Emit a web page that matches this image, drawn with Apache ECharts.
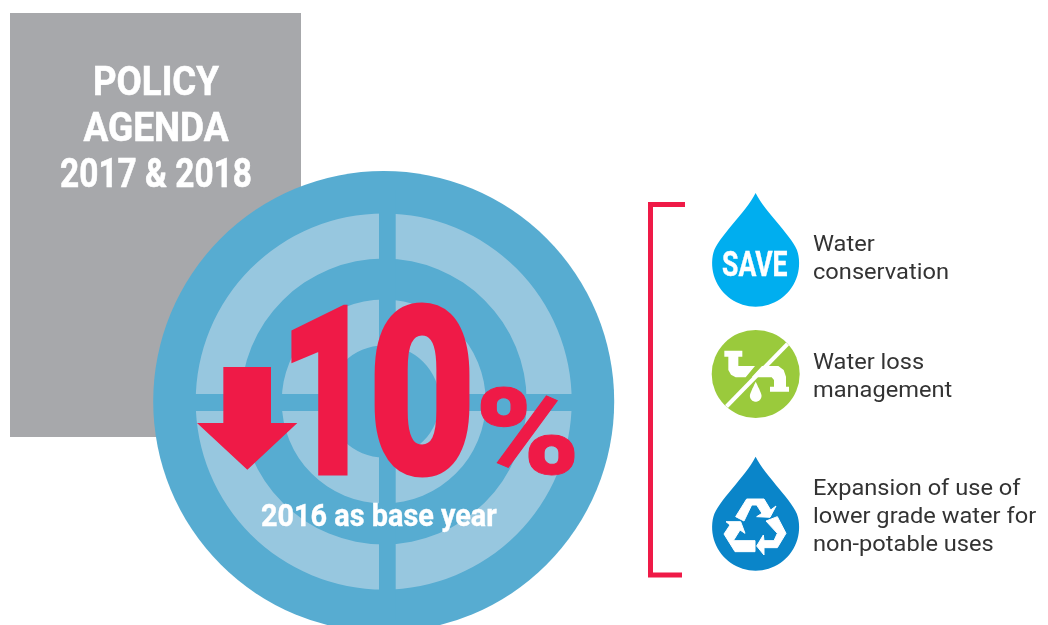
<!DOCTYPE html>
<html><head><meta charset="utf-8">
<style>html,body{margin:0;padding:0;background:#fff}#c{width:1048px;height:625px}</style>
<script src="https://cdn.jsdelivr.net/npm/echarts@6/dist/echarts.min.js"></script>
</head><body><div id="c"></div>
<script>
const titleLines = ['POLICY', 'AGENDA', '2017 & 2018'];
const headline = '10';
const headlineUnit = '%';
const baseYearLabel = '2016 as base year';
const saveLabel = 'SAVE';
const quadrants = [25, 25, 25, 25];
const item1Lines = ['Water', 'conservation'];
const item2Lines = ['Water loss', 'management'];
const item3Lines = ['Expansion of use of', 'lower grade water for', 'non-potable uses'];

const DISC = '#57acd1', LIGHT = '#97c7df', RED = '#ef1a47', GREY = '#a7a8ab';
const FONT = 'Roboto';
const cx = 383.7, cy = 401.5;
const titleScale = [0.915, 0.925, 0.835];

function text(t, x, y, size, weight, fill, align, sx, z, strokeW) {
  const style = { text: t, x: 0, y: 0, fill, textAlign: align || 'left',
      font: weight + ' ' + size + 'px "' + FONT + '"' };
  if (strokeW) { style.stroke = fill; style.lineWidth = strokeW; }
  return { type: 'text', x, y: y - size * 0.75, scaleX: sx || 1, z: z || 20, silent: true, style };
}
function poly(pts, ox, oy, fill, z, strokeW) {
  const style = { fill };
  if (strokeW) { style.stroke = fill; style.lineWidth = strokeW; style.lineJoin = 'round'; }
  return { type: 'polygon', z: z || 20, silent: true,
    shape: { points: pts.map(p => [ox + p[0] / 3, oy + p[1] / 3]) }, style };
}
function rect(x, y, w, h, fill, z) {
  return { type: 'rect', z: z === undefined ? 10 : z, silent: true, shape: { x, y, width: w, height: h }, style: { fill } };
}
function drop(x, tip, r, bottom, fill, z) {
  const c = bottom - r, lx = r * 0.97, ly = r * 0.243, pts = [];
  const jy = c - ly - tip, p1x = r * 0.23, p1y = r * 0.46, k = r * 0.345;
  const p2x = lx - 0.243 * k, p2y = jy - 0.97 * k;
  const bez = t => { const u = 1 - t;
    return [3 * u * u * t * p1x + 3 * u * t * t * p2x + t * t * t * lx,
            tip + 3 * u * u * t * p1y + 3 * u * t * t * p2y + t * t * t * jy]; };
  const a0 = Math.atan2(-ly, -lx);
  const sweep = Math.PI + 2 * Math.atan2(ly, lx);
  for (let i = 0; i <= 16; i++) { const p = bez(i / 16); pts.push([x - p[0], p[1]]); }
  for (let i = 1; i < 48; i++) { const a = a0 - sweep * i / 48;
    pts.push([x + r * Math.cos(a), c + r * Math.sin(a)]); }
  for (let i = 16; i > 0; i--) { const p = bez(i / 16); pts.push([x + p[0], p[1]]); }
  return { type: 'polygon', z: z || 20, silent: true, shape: { points: pts }, style: { fill } };
}
function ring(inner, outer) {
  return { type: 'pie', silent: true, center: [cx, cy], radius: [inner, outer], startAngle: 90, z: 5,
    label: { show: false }, labelLine: { show: false }, animation: false,
    itemStyle: { color: LIGHT, borderWidth: 0 }, data: quadrants };
}
const elements = [
  rect(10, 13, 291, 424, GREY, 0),
  rect(379, 190, 16.7, 430, DISC),
  rect(180, 394, 410, 17, DISC),
  // arrow
  poly([[220,591],[363,591],[363,759],[442,759],[292,899],[141,759],[220,759]], 150, 170, RED),
  // bracket
  { type: 'polyline', z: 20, silent: true, shape: { points: [[685, 204.5], [650.5, 204.5], [650.5, 575], [682, 575]] },
    style: { stroke: RED, lineWidth: 5, fill: 'none' } },
  // save drop
  drop(755.6, 193, 43.5, 306.7, '#00aeef'),
  // green circle
  { type: 'circle', z: 20, silent: true, shape: { cx: 755.7, cy: 374, r: 44 }, style: { fill: '#9aca3c' } },
  { type: 'line', z: 21, silent: true, shape: { x1: 787.5, y1: 344, x2: 726.5, y2: 406.5 }, style: { stroke: '#fff', lineWidth: 4 } },
  poly([[28,32],[82,32],[82,50],[70,50],[70,78],[120,78],[92,112],[62,112],[48,104],[40,90],[40,50],[28,50]], 715, 340, '#fff', 21),
  poly([[141,78],[190,78],[206,90],[213,110],[213,140],[222,140],[222,155],[165,155],[165,140],[177,140],[177,120],[170,112],[110,112]], 715, 340, '#fff', 21),
  drop(755.7, 381.7, 5.8, 401.7, '#fff', 21),
  // recycle drop
  drop(755.6, 456.7, 43.5, 570.7, '#0a85c9'),
  poly([[107,200],[140,147],[192,147],[212,180],[228,168],[210,202],[170,200],[186,190],[170,165],[155,165],[132,213]], 700, 450, '#fff', 21, 1),
  poly([[198,213],[232,200],[258,250],[232,293],[192,293],[192,315],[170,288],[190,255],[192,272],[222,272],[232,250]], 700, 450, '#fff', 21, 1),
  poly([[78,215],[122,215],[135,250],[120,240],[100,272],[165,272],[165,305],[105,305],[72,252],[90,225]], 700, 450, '#fff', 21, 1),
  // title
  ...titleLines.map((t, i) => text(t, 156, 95 + i * 46, 40, 700, '#fff', 'center', titleScale[i], 20, 0.6)),
  // headline
  text(headline[0], 279, 474, 236, 900, RED, 'left', 0.70, 30, 3),
  text(headline[1], 368, 474, 236, 900, RED, 'left', 0.79, 30, 3),
  text(headlineUnit, 475, 474, 121, 900, RED, 'left', 1.17, 30, 1),
  text(baseYearLabel, 261, 526, 31, 700, '#fff', 'left', 0.93, 31, 0.4),
  text(saveLabel, 722, 276, 35, 700, '#fff', 'left', 0.76, 25, 0.4),
  ...item1Lines.map((t, i) => text(t, 813, 251 + i * 28, 22.5, 400, '#333', 'left', 1.05)),
  ...item2Lines.map((t, i) => text(t, 813, 369 + i * 28, 22.5, 400, '#333', 'left', 1.05)),
  ...item3Lines.map((t, i) => text(t, 813, 495 + i * 28, 22.5, 400, '#333', 'left', 1.05))
];
const chart = echarts.init(document.getElementById('c'), null, { renderer: 'canvas' });
chart.setOption({
  animation: false,
  backgroundColor: '#fff',
  series: [
    { type: 'pie', silent: true, center: [cx, cy], radius: [0, 230.5], z: 3, label: { show: false }, labelLine: { show: false },
      itemStyle: { color: DISC }, data: [100] },
    ring(143, 188),
    ring(56, 102)
  ],
  graphic: { elements }
});
</script></body></html>
